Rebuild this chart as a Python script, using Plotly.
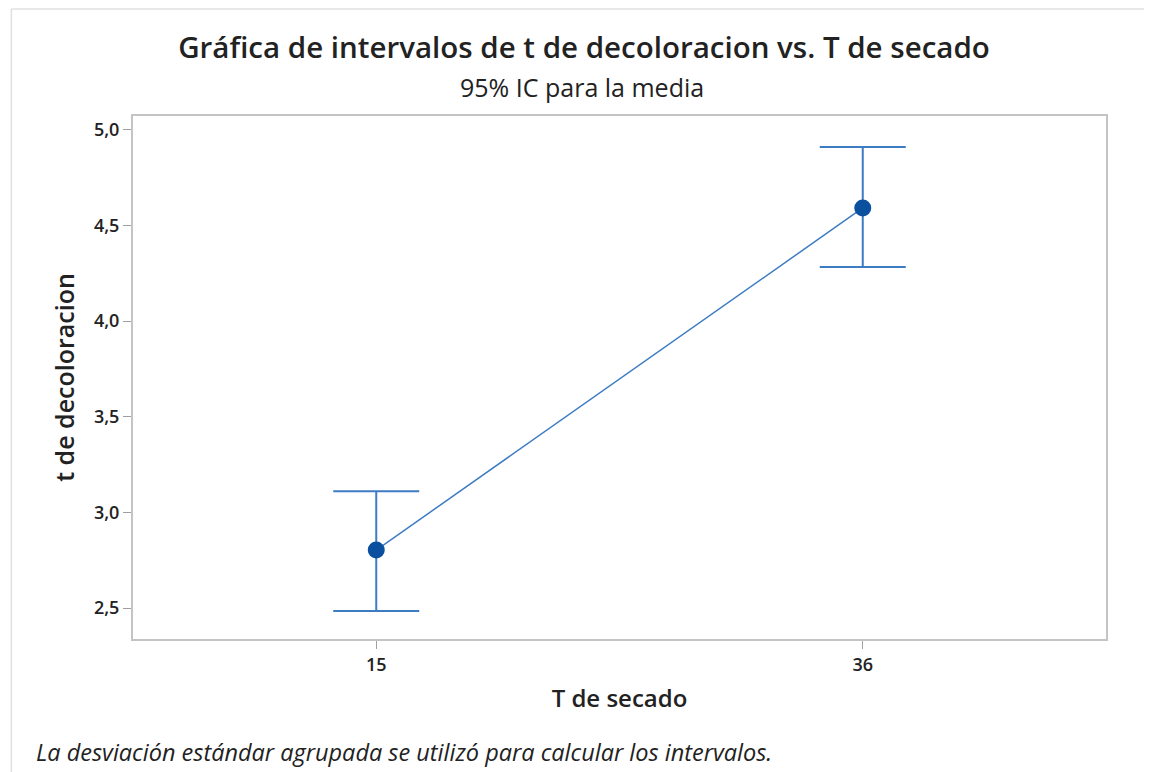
import plotly.graph_objects as go

categories = ["15", "36"]
means = [2.803, 4.592]
upper = [3.110, 4.911]
lower = [2.484, 4.283]

err_plus = [u - m for u, m in zip(upper, means)]
err_minus = [m - l for m, l in zip(means, lower)]

FONT = "Open Sans"
LINE_C = "#3d7cc2"
MARK_C = "#0b4f9f"
TXT = "#222"

fig = go.Figure()
fig.add_trace(go.Scatter(
    x=categories, y=means, mode="lines+markers",
    line=dict(color=LINE_C, width=1.5),
    marker=dict(color=MARK_C, size=17),
    error_y=dict(type="data", symmetric=False, array=err_plus, arrayminus=err_minus,
                 color=LINE_C, thickness=2, width=43),
    showlegend=False,
))

axis_common = dict(showline=True, linecolor="#c4c4c4", linewidth=2, mirror=True,
                   showgrid=False, zeroline=False, ticks="outside", ticklen=8,
                   tickcolor="#a0a0a0",
                   tickfont=dict(family=FONT, size=18, color=TXT, weight=600))

fig.update_layout(
    width=1152, height=772,
    paper_bgcolor="white", plot_bgcolor="white",
    margin=dict(l=125, r=54, t=108, b=141),
    title=dict(text="Gráfica de intervalos de t de decoloracion vs. T de secado",
               x=0.5, xanchor="center", y=0.948, yanchor="middle",
               font=dict(family=FONT, size=29.5, color=TXT, weight=600)),
    xaxis=dict(type="category", range=[-0.5, 1.5],
               title=dict(text="T de secado", font=dict(family=FONT, size=24, color=TXT, weight=600), standoff=16),
               **axis_common),
    yaxis=dict(range=[2.338, 5.073], tickvals=[2.5, 3.0, 3.5, 4.0, 4.5, 5.0],
               ticktext=["2,5", "3,0", "3,5", "4,0", "4,5", "5,0"],
               title=dict(text="t de decoloracion", font=dict(family=FONT, size=25, color=TXT, weight=600), standoff=12),
               **axis_common),
    annotations=[
        dict(text="95% IC para la media", xref="paper", yref="paper", x=0.4615, y=1.0,
             yshift=29, xanchor="center", yanchor="middle", showarrow=False,
             font=dict(family=FONT, size=25, color=TXT)),
        dict(text="<i>La desviación estándar agrupada se utilizó para calcular los intervalos.</i>",
             xref="paper", yref="paper", x=0, y=0, xshift=-99, yshift=-113,
             xanchor="left", yanchor="middle", showarrow=False,
             font=dict(family=FONT, size=23.5, color=TXT)),
    ],
    shapes=[
        dict(type="line", xref="paper", yref="paper", x0=-0.125, x1=1.06, y0=1.2046, y1=1.2046,
             line=dict(color="#e0e0e0", width=1.5)),
        dict(type="line", xref="paper", yref="paper", x0=-0.125, x1=-0.125, y0=1.2046, y1=-0.27,
             line=dict(color="#e0e0e0", width=1.5)),
    ],
)

fig.write_html("out.html")
